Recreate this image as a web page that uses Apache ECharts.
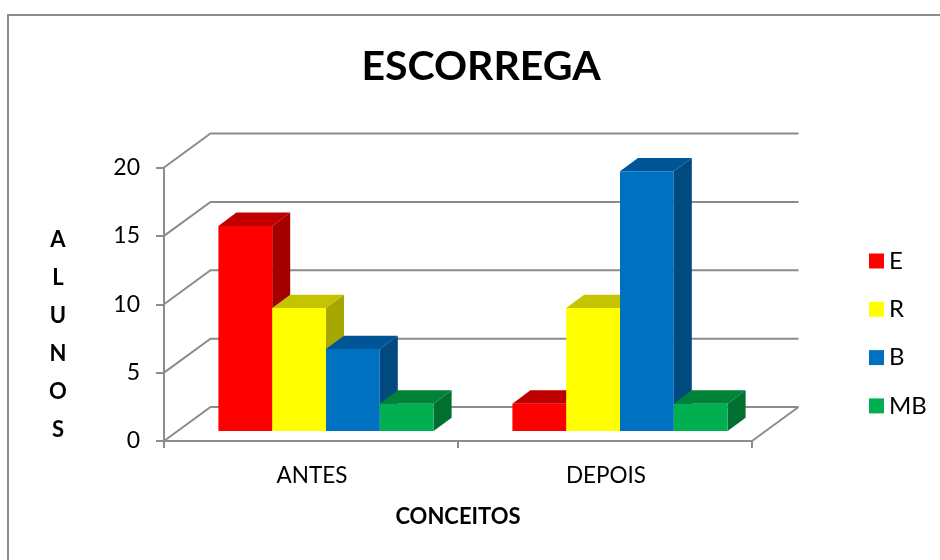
<!DOCTYPE html>
<html>
<head>
<meta charset="utf-8">
<style>
  html, body { margin: 0; padding: 0; background: #fff; }
  #chart { width: 940px; height: 560px; }
</style>
</head>
<body>
<div id="chart"></div>
<script src="https://cdn.jsdelivr.net/npm/echarts@6/dist/echarts.min.js"></script>
<script>
var categories = ['ANTES', 'DEPOIS']
var yTicks = [0, 5, 10, 15, 20]
var valuesE = [15, 2]
var valuesR = [9, 9]
var valuesB = [6, 19]
var valuesMB = [2, 2]

var font = 'Lato, "Open Sans", sans-serif'
var gridColor = '#8c8c8c'

// depth of the box, of each bar, and where the bars sit inside the box
var wallDepth = [46.5, -34]
var barDepth = [18, -13.3]
var barShift = [15, -10]

function pairs(values) {
  return values.map(function (v, i) {
    return [i, v]
  })
}

function poly(points, color) {
  return {
    type: 'polygon',
    shape: { points: points },
    style: { fill: color }
  }
}

// back wall, side wall and floor lines
function renderWall(params, api) {
  var sys = params.coordSys
  var y = api.coord([0, api.value(0)])[1]
  var x0 = sys.x
  var x1 = sys.x + sys.width
  var children = [{
    type: 'polyline',
    shape: {
      points: [
        [x0, y],
        [x0 + wallDepth[0], y + wallDepth[1]],
        [x1 + wallDepth[0], y + wallDepth[1]]
      ]
    },
    style: { stroke: gridColor, lineWidth: 2, fill: null }
  }]
  if (api.value(0) === 0) {
    children.push({
      type: 'line',
      shape: { x1: x1, y1: y, x2: x1 + wallDepth[0], y2: y + wallDepth[1] },
      style: { stroke: gridColor, lineWidth: 2 }
    })
  }
  return { type: 'group', children: children }
}

function barRenderer(order, front, top, side) {
  return function (params, api) {
    var p = api.coord([api.value(0), api.value(1)])
    var base = api.coord([api.value(0), 0])
    var w = api.size([1, 0])[0] * 0.183
    var xl = p[0] + barShift[0] + (order - 2) * w
    var xr = xl + w
    var yt = p[1] + barShift[1]
    var yb = base[1] + barShift[1]
    var dx = barDepth[0]
    var dy = barDepth[1]
    return {
      type: 'group',
      children: [
        poly([[xl, yt], [xr, yt], [xr + dx, yt + dy], [xl + dx, yt + dy]], top),
        poly([[xr, yt], [xr + dx, yt + dy], [xr + dx, yb + dy], [xr, yb]], side),
        poly([[xl, yt], [xr, yt], [xr, yb], [xl, yb]], front)
      ]
    }
  }
}

function barSeries(name, values, order, front, top, side) {
  return {
    name: name,
    type: 'custom',
    data: pairs(values),
    encode: { x: 0, y: 1 },
    itemStyle: { color: front },
    renderItem: barRenderer(order, front, top, side),
    z: 5
  }
}

var chart = echarts.init(document.getElementById('chart'))
chart.setOption({
  animation: false,
  backgroundColor: '#fff',
  textStyle: { fontFamily: font },
  graphic: [{
    type: 'polyline',
    shape: { points: [[8, 560], [8, 15], [940, 15]] },
    style: { stroke: gridColor, lineWidth: 2, fill: null }
  }],
  title: [{
    text: 'ESCORREGA',
    left: 476,
    top: 41,
    textAlign: 'center',
    textStyle: { fontFamily: font, fontSize: 41, fontWeight: 'bold', color: '#000' }
  }, {
    // vertical axis title, stacked letter by letter
    text: 'A\nL\nU\nN\nO\nS',
    left: 53,
    top: 216,
    textAlign: 'center',
    textStyle: { fontFamily: font, fontSize: 22, fontWeight: 'bold', color: '#000', lineHeight: 38 }
  }],
  legend: {
    orient: 'vertical',
    left: 864,
    top: 244,
    icon: 'rect',
    itemWidth: 15,
    itemHeight: 15,
    itemGap: 24.3,
    data: ['E', 'R', 'B', 'MB'],
    textStyle: { fontFamily: font, fontSize: 24, color: '#000' }
  },
  grid: { left: 164, right: 188, top: 167.5, height: 273.5 },
  xAxis: {
    type: 'category',
    data: categories,
    axisLine: { lineStyle: { color: gridColor, width: 2 } },
    axisTick: { show: true, length: 7, lineStyle: { color: gridColor, width: 2 } },
    axisLabel: { color: '#000', fontSize: 22.5, margin: 23, padding: [0, 0, 0, 2], fontFamily: font },
    name: 'CONCEITOS',
    nameLocation: 'middle',
    nameGap: 65,
    nameTextStyle: { color: '#000', fontSize: 22, fontWeight: 'bold', fontFamily: font }
  },
  yAxis: {
    type: 'value',
    min: 0,
    max: 20,
    interval: 5,
    splitLine: { show: false },
    axisLine: { show: true, lineStyle: { color: gridColor, width: 2 } },
    axisTick: { show: true, length: 8, lineStyle: { color: gridColor, width: 2 } },
    axisLabel: { color: '#000', fontSize: 23, margin: 24, padding: [3, 0, 0, 0], fontFamily: font }
  },
  series: [
    {
      type: 'custom',
      data: yTicks.map(function (v) { return [v] }),
      encode: { y: 0 },
      renderItem: renderWall,
      silent: true,
      z: 1
    },
    barSeries('E', valuesE, 0, '#ff0000', '#c00000', '#a50000'),
    barSeries('R', valuesR, 1, '#ffff00', '#c4c400', '#a6a600'),
    barSeries('B', valuesB, 2, '#0070c0', '#005596', '#004a80'),
    barSeries('MB', valuesMB, 3, '#00b050', '#008238', '#007030')
  ]
})
</script>
</body>
</html>
